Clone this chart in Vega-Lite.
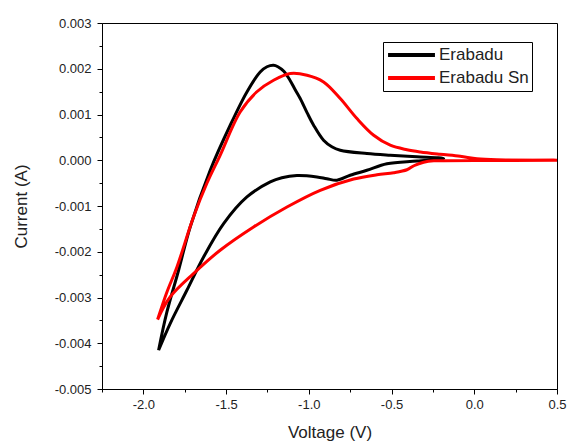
{
  "$schema": "https://vega.github.io/schema/vega-lite/v6.json",
  "autosize": {"type": "none"},
  "padding": {"left": 102, "top": 23, "right": 12, "bottom": 55},
  "width": 455,
  "height": 366,
  "background": "white",
  "config": {
    "view": {"stroke": "black", "strokeWidth": 1},
    "font": "Liberation Sans",
    "axis": {
      "domainColor": "black",
      "tickColor": "black",
      "labelColor": "#222",
      "titleColor": "#222",
      "labelFont": "Liberation Sans",
      "titleFont": "Liberation Sans",
      "labelFontSize": 13,
      "titleFontSize": 17,
      "titleFontWeight": "normal",
      "grid": false,
      "labelOverlap": false,
      "labelBound": false,
      "labelFlush": false
    }
  },
  "data": {
    "values": [
      {"series": "Erabadu", "i": 1, "V": -1.908, "I": -0.004153},
      {"series": "Erabadu", "i": 2, "V": -1.858, "I": -0.003322},
      {"series": "Erabadu", "i": 3, "V": -1.787, "I": -0.002404},
      {"series": "Erabadu", "i": 4, "V": -1.717, "I": -0.001458},
      {"series": "Erabadu", "i": 5, "V": -1.596, "I": -0.000219},
      {"series": "Erabadu", "i": 6, "V": -1.475, "I": 0.000765},
      {"series": "Erabadu", "i": 7, "V": -1.374, "I": 0.001493},
      {"series": "Erabadu", "i": 8, "V": -1.294, "I": 0.00193},
      {"series": "Erabadu", "i": 9, "V": -1.253, "I": 0.002044},
      {"series": "Erabadu", "i": 10, "V": -1.213, "I": 0.002077},
      {"series": "Erabadu", "i": 11, "V": -1.187, "I": 0.002044},
      {"series": "Erabadu", "i": 12, "V": -1.151, "I": 0.001945},
      {"series": "Erabadu", "i": 13, "V": -1.114, "I": 0.001749},
      {"series": "Erabadu", "i": 14, "V": -1.084, "I": 0.001552},
      {"series": "Erabadu", "i": 15, "V": -1.052, "I": 0.001349},
      {"series": "Erabadu", "i": 16, "V": -1.01, "I": 0.001035},
      {"series": "Erabadu", "i": 17, "V": -0.971, "I": 0.000765},
      {"series": "Erabadu", "i": 18, "V": -0.911, "I": 0.000437},
      {"series": "Erabadu", "i": 19, "V": -0.861, "I": 0.000295},
      {"series": "Erabadu", "i": 20, "V": -0.81, "I": 0.000219},
      {"series": "Erabadu", "i": 21, "V": -0.649, "I": 0.000146},
      {"series": "Erabadu", "i": 22, "V": -0.508, "I": 0.000109},
      {"series": "Erabadu", "i": 23, "V": -0.346, "I": 0.000077},
      {"series": "Erabadu", "i": 24, "V": -0.185, "I": 0.000037},
      {"series": "Erabadu", "i": 25, "V": -0.346, "I": -0.000017},
      {"series": "Erabadu", "i": 26, "V": -0.528, "I": -0.000077},
      {"series": "Erabadu", "i": 27, "V": -0.649, "I": -0.000219},
      {"series": "Erabadu", "i": 28, "V": -0.75, "I": -0.000328},
      {"series": "Erabadu", "i": 29, "V": -0.83, "I": -0.000437},
      {"series": "Erabadu", "i": 30, "V": -0.891, "I": -0.000404},
      {"series": "Erabadu", "i": 31, "V": -0.951, "I": -0.000365},
      {"series": "Erabadu", "i": 32, "V": -1.072, "I": -0.000335},
      {"series": "Erabadu", "i": 33, "V": -1.163, "I": -0.000383},
      {"series": "Erabadu", "i": 34, "V": -1.233, "I": -0.000474},
      {"series": "Erabadu", "i": 35, "V": -1.374, "I": -0.000802},
      {"series": "Erabadu", "i": 36, "V": -1.515, "I": -0.001384},
      {"series": "Erabadu", "i": 37, "V": -1.636, "I": -0.002114},
      {"series": "Erabadu", "i": 38, "V": -1.737, "I": -0.002842},
      {"series": "Erabadu", "i": 39, "V": -1.838, "I": -0.003569},
      {"series": "Erabadu", "i": 40, "V": -1.908, "I": -0.004153},
      {"series": "Erabadu Sn", "i": 1, "V": -1.914, "I": -0.003482},
      {"series": "Erabadu Sn", "i": 2, "V": -1.858, "I": -0.002885},
      {"series": "Erabadu Sn", "i": 3, "V": -1.797, "I": -0.002332},
      {"series": "Erabadu Sn", "i": 4, "V": -1.697, "I": -0.001239},
      {"series": "Erabadu Sn", "i": 5, "V": -1.616, "I": -0.000503},
      {"series": "Erabadu Sn", "i": 6, "V": -1.536, "I": 0.000109},
      {"series": "Erabadu Sn", "i": 7, "V": -1.415, "I": 0.001056},
      {"series": "Erabadu Sn", "i": 8, "V": -1.314, "I": 0.001497},
      {"series": "Erabadu Sn", "i": 9, "V": -1.213, "I": 0.001749},
      {"series": "Erabadu Sn", "i": 10, "V": -1.112, "I": 0.001895},
      {"series": "Erabadu Sn", "i": 11, "V": -1.011, "I": 0.001858},
      {"series": "Erabadu Sn", "i": 12, "V": -0.911, "I": 0.001711},
      {"series": "Erabadu Sn", "i": 13, "V": -0.81, "I": 0.001349},
      {"series": "Erabadu Sn", "i": 14, "V": -0.709, "I": 0.000911},
      {"series": "Erabadu Sn", "i": 15, "V": -0.608, "I": 0.000546},
      {"series": "Erabadu Sn", "i": 16, "V": -0.508, "I": 0.000328},
      {"series": "Erabadu Sn", "i": 17, "V": -0.407, "I": 0.00023},
      {"series": "Erabadu Sn", "i": 18, "V": -0.326, "I": 0.000181},
      {"series": "Erabadu Sn", "i": 19, "V": -0.207, "I": 0.000131},
      {"series": "Erabadu Sn", "i": 20, "V": -0.085, "I": 0.000087},
      {"series": "Erabadu Sn", "i": 21, "V": 0.016, "I": 0.000033},
      {"series": "Erabadu Sn", "i": 22, "V": 0.137, "I": 0.00001},
      {"series": "Erabadu Sn", "i": 23, "V": 0.5, "I": 0.0},
      {"series": "Erabadu Sn", "i": 24, "V": 0.0, "I": -0.000005},
      {"series": "Erabadu Sn", "i": 25, "V": -0.185, "I": -0.00001},
      {"series": "Erabadu Sn", "i": 26, "V": -0.245, "I": -0.000011},
      {"series": "Erabadu Sn", "i": 27, "V": -0.306, "I": -0.000044},
      {"series": "Erabadu Sn", "i": 28, "V": -0.365, "I": -0.00012},
      {"series": "Erabadu Sn", "i": 29, "V": -0.407, "I": -0.000208},
      {"series": "Erabadu Sn", "i": 30, "V": -0.487, "I": -0.000273},
      {"series": "Erabadu Sn", "i": 31, "V": -0.588, "I": -0.000317},
      {"series": "Erabadu Sn", "i": 32, "V": -0.729, "I": -0.000411},
      {"series": "Erabadu Sn", "i": 33, "V": -0.931, "I": -0.000656},
      {"series": "Erabadu Sn", "i": 34, "V": -1.132, "I": -0.001021},
      {"series": "Erabadu Sn", "i": 35, "V": -1.334, "I": -0.001458},
      {"series": "Erabadu Sn", "i": 36, "V": -1.536, "I": -0.001967},
      {"series": "Erabadu Sn", "i": 37, "V": -1.697, "I": -0.002477},
      {"series": "Erabadu Sn", "i": 38, "V": -1.838, "I": -0.002988},
      {"series": "Erabadu Sn", "i": 39, "V": -1.914, "I": -0.003482}
    ]
  },
  "mark": {"type": "line", "strokeWidth": 3, "interpolate": "catmull-rom", "clip": true},
  "encoding": {
    "x": {
      "field": "V",
      "type": "quantitative",
      "scale": {"domain": [-2.25, 0.5], "nice": false, "zero": false},
      "axis": {
        "title": "Voltage (V)",
        "values": [-2.25, -2.0, -1.75, -1.5, -1.25, -1.0, -0.75, -0.5, -0.25, 0.0, 0.25, 0.5],
        "labelExpr": "abs(datum.value*2 - round(datum.value*2)) > 0.01 ? '' : replace(format(datum.value, '.1f'), '\u2212', '-')",
        "tickSize": {"condition": {"test": "abs(datum.value*2 - round(datum.value*2)) > 0.01", "value": 3}, "value": 5},
        "labelPadding": 4,
        "titlePadding": 13
      }
    },
    "y": {
      "field": "I",
      "type": "quantitative",
      "scale": {"domain": [-0.005, 0.003], "nice": false, "zero": false},
      "axis": {
        "title": "Current (A)",
        "values": [-0.005, -0.0045, -0.004, -0.0035, -0.003, -0.0025, -0.002, -0.0015, -0.001, -0.0005, 0, 0.0005, 0.001, 0.0015, 0.002, 0.0025, 0.003],
        "labelExpr": "abs(datum.value*1000 - round(datum.value*1000)) > 0.01 ? '' : replace(format(datum.value, '.3f'), '\u2212', '-')",
        "tickSize": {"condition": {"test": "abs(datum.value*1000 - round(datum.value*1000)) > 0.01", "value": 3}, "value": 5},
        "labelPadding": 6,
        "titlePadding": 24
      }
    },
    "color": {
      "field": "series",
      "type": "nominal",
      "scale": {"domain": ["Erabadu", "Erabadu Sn"], "range": ["#000000", "#ff0000"]},
      "legend": {
        "title": null,
        "orient": "none",
        "legendX": 281,
        "legendY": 19,
        "symbolType": "stroke",
        "symbolSize": 2200,
        "symbolStrokeWidth": 4,
        "clipHeight": 20,
        "rowPadding": 3,
        "labelFontSize": 17,
        "labelFont": "Liberation Sans",
        "labelColor": "#222",
        "labelOffset": 2,
        "strokeColor": "black",
        "padding": 3,
        "fillColor": "white"
      }
    },
    "order": {"field": "i", "type": "quantitative"}
  }
}
